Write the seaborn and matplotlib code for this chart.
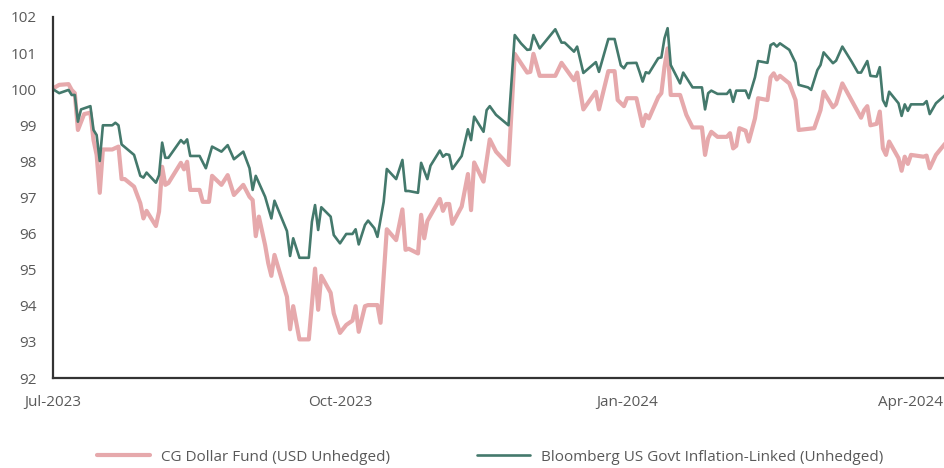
import matplotlib
matplotlib.use("Agg")
import matplotlib.pyplot as plt
import pandas as pd
import seaborn as sns

fund_name = "CG Dollar Fund (USD Unhedged)"
bench_name = "Bloomberg US Govt Inflation-Linked (Unhedged)"

fund_dates = [
    "2023-07-01", "2023-07-03", "2023-07-06", "2023-07-07", "2023-07-08", "2023-07-09",
    "2023-07-11", "2023-07-13", "2023-07-14", "2023-07-15", "2023-07-16", "2023-07-17",
    "2023-07-20", "2023-07-22", "2023-07-23", "2023-07-24", "2023-07-27", "2023-07-29",
    "2023-07-30", "2023-07-31", "2023-08-03", "2023-08-04", "2023-08-05", "2023-08-06",
    "2023-08-07", "2023-08-11", "2023-08-12", "2023-08-13", "2023-08-14", "2023-08-17",
    "2023-08-18", "2023-08-20", "2023-08-21", "2023-08-24", "2023-08-26", "2023-08-28",
    "2023-08-31", "2023-09-02", "2023-09-03", "2023-09-04", "2023-09-05", "2023-09-07",
    "2023-09-08", "2023-09-09", "2023-09-10", "2023-09-14", "2023-09-15", "2023-09-16",
    "2023-09-18", "2023-09-21", "2023-09-23", "2023-09-24", "2023-09-25", "2023-09-28",
    "2023-09-29", "2023-10-01", "2023-10-03", "2023-10-05", "2023-10-06", "2023-10-07",
    "2023-10-09", "2023-10-10", "2023-10-13", "2023-10-14", "2023-10-15", "2023-10-16",
    "2023-10-19", "2023-10-21", "2023-10-22", "2023-10-23", "2023-10-26", "2023-10-27",
    "2023-10-28", "2023-10-29", "2023-11-02", "2023-11-03", "2023-11-04", "2023-11-05",
    "2023-11-06", "2023-11-09", "2023-11-11", "2023-11-12", "2023-11-13", "2023-11-16",
    "2023-11-18", "2023-11-20", "2023-11-24", "2023-11-26", "2023-11-28", "2023-11-30",
    "2023-12-01", "2023-12-02", "2023-12-04", "2023-12-09", "2023-12-11", "2023-12-15",
    "2023-12-16", "2023-12-18", "2023-12-22", "2023-12-23", "2023-12-26", "2023-12-28",
    "2023-12-29", "2023-12-31", "2024-01-01", "2024-01-04", "2024-01-06", "2024-01-07",
    "2024-01-08", "2024-01-11", "2024-01-12", "2024-01-13", "2024-01-14", "2024-01-15",
    "2024-01-18", "2024-01-20", "2024-01-22", "2024-01-25", "2024-01-26", "2024-01-27",
    "2024-01-28", "2024-01-30", "2024-02-02", "2024-02-03", "2024-02-04", "2024-02-05",
    "2024-02-06", "2024-02-08", "2024-02-09", "2024-02-11", "2024-02-12", "2024-02-15",
    "2024-02-16", "2024-02-17", "2024-02-18", "2024-02-19", "2024-02-22", "2024-02-24",
    "2024-02-25", "2024-03-01", "2024-03-03", "2024-03-04", "2024-03-07", "2024-03-08",
    "2024-03-10", "2024-03-16", "2024-03-17", "2024-03-18", "2024-03-19", "2024-03-21",
    "2024-03-22", "2024-03-23", "2024-03-24", "2024-03-25", "2024-03-28", "2024-03-29",
    "2024-03-30", "2024-03-31", "2024-04-01", "2024-04-05", "2024-04-06", "2024-04-07",
    "2024-04-09", "2024-04-12",
]
fund_values = [
    100.02, 100.12, 100.14, 99.98, 99.89, 98.87,
    99.31, 99.35, 98.59, 98.18, 97.13, 98.33,
    98.33, 98.41, 97.51, 97.51, 97.30, 96.84,
    96.42, 96.63, 96.21, 96.61, 97.85, 97.35,
    97.40, 97.96, 97.78, 97.99, 97.21, 97.21,
    96.88, 96.88, 97.60, 97.35, 97.62, 97.07,
    97.35, 97.02, 96.93, 95.93, 96.47, 95.68,
    95.18, 94.83, 95.41, 94.25, 93.35, 93.99,
    93.07, 93.07, 95.03, 93.89, 94.83, 94.36,
    93.79, 93.25, 93.47, 93.59, 93.99, 93.28,
    93.99, 94.02, 94.02, 93.53, 94.81, 96.12,
    95.82, 96.67, 95.55, 95.58, 95.45, 96.52,
    95.87, 96.35, 96.96, 96.63, 96.82, 96.82,
    96.27, 96.75, 97.65, 96.65, 97.97, 97.44,
    98.61, 98.27, 97.90, 100.98, 100.72, 100.46,
    100.48, 100.98, 100.37, 100.37, 100.73, 100.25,
    100.46, 99.44, 99.93, 99.44, 100.50, 100.50,
    99.70, 99.53, 99.75, 99.75, 98.98, 99.29,
    99.19, 99.78, 99.89, 100.62, 101.13, 99.84,
    99.84, 99.29, 98.94, 98.94, 98.18, 98.64,
    98.82, 98.68, 98.68, 98.78, 98.36, 98.43,
    98.92, 98.85, 98.55, 99.19, 99.75, 99.70,
    100.33, 100.44, 100.27, 100.37, 100.16, 99.70,
    98.87, 98.92, 99.42, 99.93, 99.50, 99.59,
    100.16, 99.21, 99.42, 99.53, 99.00, 99.04,
    99.38, 98.36, 98.18, 98.55, 98.09, 97.74,
    98.13, 97.93, 98.18, 98.13, 98.16, 97.81,
    98.18, 98.50,
]

bench_dates = [
    "2023-07-01", "2023-07-03", "2023-07-06", "2023-07-07", "2023-07-08", "2023-07-09",
    "2023-07-10", "2023-07-13", "2023-07-14", "2023-07-15", "2023-07-16", "2023-07-17",
    "2023-07-20", "2023-07-21", "2023-07-22", "2023-07-23", "2023-07-27", "2023-07-29",
    "2023-07-30", "2023-07-31", "2023-08-03", "2023-08-04", "2023-08-05", "2023-08-06",
    "2023-08-07", "2023-08-11", "2023-08-12", "2023-08-13", "2023-08-14", "2023-08-17",
    "2023-08-19", "2023-08-21", "2023-08-24", "2023-08-26", "2023-08-28", "2023-08-31",
    "2023-09-02", "2023-09-03", "2023-09-04", "2023-09-07", "2023-09-09", "2023-09-10",
    "2023-09-14", "2023-09-15", "2023-09-16", "2023-09-18", "2023-09-21", "2023-09-22",
    "2023-09-23", "2023-09-24", "2023-09-25", "2023-09-28", "2023-09-29", "2023-10-01",
    "2023-10-03", "2023-10-05", "2023-10-06", "2023-10-07", "2023-10-09", "2023-10-10",
    "2023-10-12", "2023-10-13", "2023-10-15", "2023-10-16", "2023-10-19", "2023-10-21",
    "2023-10-22", "2023-10-23", "2023-10-26", "2023-10-27", "2023-10-29", "2023-10-30",
    "2023-11-02", "2023-11-03", "2023-11-04", "2023-11-05", "2023-11-06", "2023-11-09",
    "2023-11-11", "2023-11-12", "2023-11-13", "2023-11-16", "2023-11-17", "2023-11-18",
    "2023-11-20", "2023-11-24", "2023-11-26", "2023-11-28", "2023-11-30", "2023-12-01",
    "2023-12-02", "2023-12-04", "2023-12-09", "2023-12-11", "2023-12-12", "2023-12-15",
    "2023-12-16", "2023-12-18", "2023-12-22", "2023-12-23", "2023-12-26", "2023-12-28",
    "2023-12-30", "2023-12-31", "2024-01-01", "2024-01-04", "2024-01-05", "2024-01-06",
    "2024-01-07", "2024-01-08", "2024-01-11", "2024-01-12", "2024-01-13", "2024-01-14",
    "2024-01-15", "2024-01-18", "2024-01-19", "2024-01-22", "2024-01-25", "2024-01-26",
    "2024-01-27", "2024-01-28", "2024-01-30", "2024-02-02", "2024-02-03", "2024-02-04",
    "2024-02-05", "2024-02-08", "2024-02-09", "2024-02-11", "2024-02-12", "2024-02-15",
    "2024-02-16", "2024-02-17", "2024-02-18", "2024-02-19", "2024-02-22", "2024-02-24",
    "2024-02-25", "2024-02-28", "2024-02-29", "2024-03-02", "2024-03-03", "2024-03-04",
    "2024-03-07", "2024-03-08", "2024-03-10", "2024-03-13", "2024-03-15", "2024-03-16",
    "2024-03-18", "2024-03-19", "2024-03-21", "2024-03-22", "2024-03-23", "2024-03-24",
    "2024-03-25", "2024-03-28", "2024-03-29", "2024-03-30", "2024-03-31", "2024-04-01",
    "2024-04-05", "2024-04-06", "2024-04-07", "2024-04-09", "2024-04-12",
]
bench_values = [
    100.00, 99.89, 99.98, 99.84, 99.84, 99.10,
    99.44, 99.53, 98.87, 98.73, 98.01, 99.00,
    99.00, 99.07, 99.00, 98.47, 98.18, 97.60,
    97.55, 97.69, 97.41, 97.62, 98.52, 98.10,
    98.10, 98.59, 98.50, 98.61, 98.15, 98.15,
    97.81, 98.41, 98.27, 98.45, 98.06, 98.27,
    97.81, 97.21, 97.60, 97.02, 96.42, 96.91,
    96.07, 95.38, 95.87, 95.33, 95.33, 96.33,
    96.79, 96.10, 96.73, 96.47, 95.96, 95.73,
    95.99, 95.99, 96.12, 95.70, 96.24, 96.36,
    96.15, 95.91, 96.88, 97.79, 97.51, 98.04,
    97.18, 97.18, 97.13, 97.96, 97.51, 97.88,
    98.30, 98.13, 98.20, 98.18, 97.79, 98.15,
    98.89, 98.59, 99.24, 98.82, 99.42, 99.53,
    99.29, 99.00, 101.50, 101.27, 101.09, 101.10,
    101.50, 101.13, 101.66, 101.29, 101.29, 101.04,
    101.18, 100.45, 100.75, 100.48, 101.39, 101.39,
    100.66, 100.58, 100.72, 100.73, 100.48, 100.21,
    100.47, 100.44, 100.86, 100.88, 101.41, 101.69,
    100.67, 100.16, 100.46, 100.05, 100.05, 99.44,
    99.89, 99.96, 99.87, 99.87, 99.98, 99.65,
    99.96, 99.96, 99.75, 100.33, 100.78, 100.73,
    101.22, 101.27, 101.18, 101.27, 101.09, 100.73,
    100.12, 100.05, 99.98, 100.53, 100.67, 101.02,
    100.72, 100.79, 101.18, 100.76, 100.46, 100.46,
    100.78, 100.37, 100.35, 100.61, 99.70, 99.53,
    99.93, 99.61, 99.26, 99.58, 99.40, 99.58,
    99.58, 99.67, 99.31, 99.61, 99.84,
]

tick_dates = ["2023-07-01", "2023-10-01", "2024-01-01", "2024-04-01"]
tick_labels = ["Jul-2023", "Oct-2023", "Jan-2024", "Apr-2024"]
y_ticks = [92, 93, 94, 95, 96, 97, 98, 99, 100, 101, 102]

fund = pd.DataFrame({"date": pd.to_datetime(fund_dates), "value": fund_values})
bench = pd.DataFrame({"date": pd.to_datetime(bench_dates), "value": bench_values})

sns.set_theme(style="white")
plt.rcParams["font.family"] = ["Open Sans", "DejaVu Sans"]

fig = plt.figure(figsize=(9.44, 4.68), dpi=100)
ax = fig.add_axes([0.0561, 0.1923, 0.9439, 0.7714])

sns.lineplot(data=fund, x="date", y="value", ax=ax, color="#e6a9ac",
             linewidth=3.0, label=fund_name)
sns.lineplot(data=bench, x="date", y="value", ax=ax, color="#44796c",
             linewidth=1.9, label=bench_name)

ax.set_xlim(pd.Timestamp("2023-07-01"), pd.Timestamp("2024-04-11 14:00"))
ax.set_ylim(92, 102)
ax.set_yticks(y_ticks)
ax.set_xticks(pd.to_datetime(tick_dates))
ax.set_xticklabels(tick_labels)
ax.set_xlabel("")
ax.set_ylabel("")
ax.tick_params(axis="both", length=0, pad=12, labelsize=11, labelcolor="#595959")

for side in ["top", "right"]:
    ax.spines[side].set_visible(False)
for side in ["left", "bottom"]:
    ax.spines[side].set_color("#333333")
    ax.spines[side].set_linewidth(1.6)

handles, labels = ax.get_legend_handles_labels()
ax.get_legend().remove()
fig.legend(handles, labels, loc="center", bbox_to_anchor=(0.519, 0.0235),
           ncol=2, frameon=False, fontsize=11, handlelength=3.5,
           handletextpad=0.7, columnspacing=5.7, labelcolor="#595959")

fig.savefig("out.png", dpi=100)
plt.close(fig)
